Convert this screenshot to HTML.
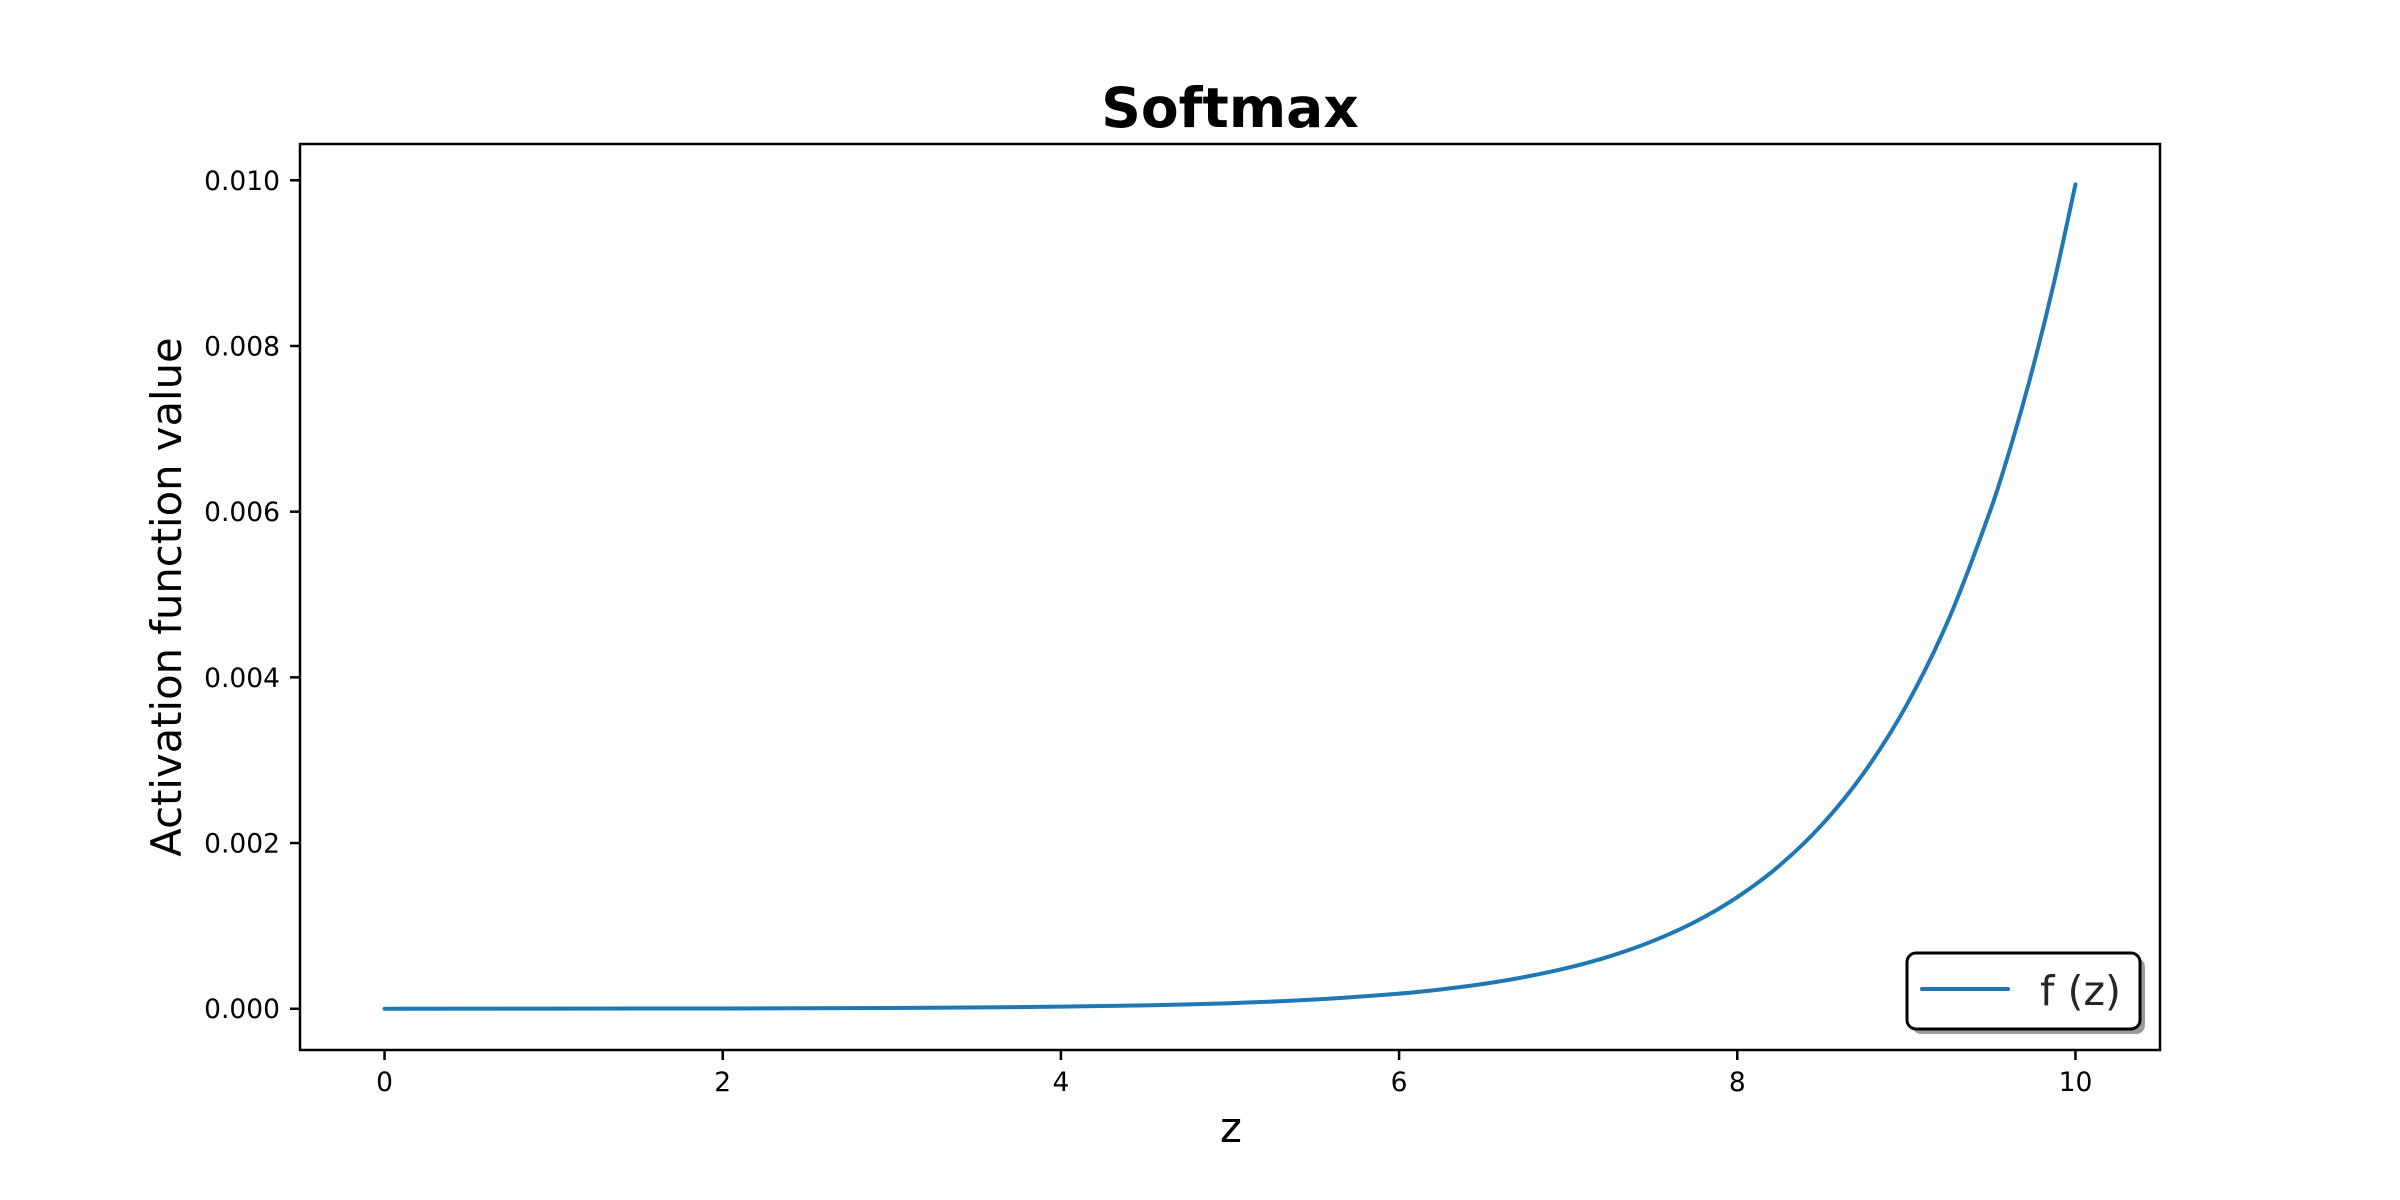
<!DOCTYPE html>
<html><head><meta charset="utf-8"><style>
html,body{margin:0;padding:0;background:#fff;}
svg{display:block;font-family:"DejaVu Sans","Liberation Sans",sans-serif;}
</style></head><body>
<svg id="chart" width="2400" height="1200" viewBox="0 0 2400 1200" xmlns="http://www.w3.org/2000/svg">
<rect x="0" y="0" width="2400" height="1200" fill="#fff"/>
<text x="1230" y="127" text-anchor="middle" font-size="55" font-weight="bold">Softmax</text>
<g id="xticks"></g>
<g id="yticks"></g>
<path id="series" fill="none" stroke="#1f77b4" stroke-width="4" stroke-linejoin="round" stroke-linecap="round"/>
<rect x="300" y="144" width="1860" height="906" fill="none" stroke="#000" stroke-width="2.5"/>
<text x="1231" y="1142" text-anchor="middle" font-size="41.7">z</text>
<text transform="translate(181,597) rotate(-90)" text-anchor="middle" font-size="41.7">Activation function value</text>
<g>
<rect x="1912" y="958" width="233" height="76" rx="9" fill="#999"/>
<rect x="1907" y="953" width="233" height="76" rx="9" fill="#fff" stroke="#000" stroke-width="3"/>
<line x1="1922" y1="989" x2="2008" y2="989" stroke="#1f77b4" stroke-width="4" stroke-linecap="round"/>
<text x="2040" y="1005" font-size="41" fill="#262626">f (z)</text>
</g>
</svg>
<script>
const zValues = [0,1,2,3,4,4.5,5,5.5,6,6.25,6.5,6.75,7,7.25,7.5,7.75,8,8.25,8.5,8.75,9,9.25,9.5,9.625,9.75,9.875,10];
const fValues = [0.00000045,0.0000012,0.0000033,0.0000091,0.000025,0.000041,0.000067,0.000111,0.000182,0.000234,0.000300,0.000386,0.000495,0.000636,0.000817,0.001049,0.001347,0.001729,0.002220,0.002851,0.003660,0.004700,0.006035,0.006839,0.007749,0.008781,0.00995];
const xTicks = [0,2,4,6,8,10];
const yTicks = [0,0.002,0.004,0.006,0.008,0.010];
const yTickLabels = ["0.000","0.002","0.004","0.006","0.008","0.010"];
const NS="http://www.w3.org/2000/svg";
const X0=300,X1=2160,Y0=1050,Y1=144,xmin=-0.5,xmax=10.5,ymin=-0.000498,ymax=0.010438;
function sx(v){return X0+(v-xmin)/(xmax-xmin)*(X1-X0);}
function sy(v){return Y0-(v-ymin)/(ymax-ymin)*(Y0-Y1);}
let d="M"+sx(zValues[0]).toFixed(2)+","+sy(fValues[0]).toFixed(2);
for(let i=0;i<zValues.length-1;i++){
  const x0=sx(zValues[i]),y0=sy(fValues[i]),x1=sx(zValues[i+1]),y1=sy(fValues[i+1]);
  const dx=(x1-x0)/3;
  const s0=i>0?(sy(fValues[i+1])-sy(fValues[i-1]))/(sx(zValues[i+1])-sx(zValues[i-1])):(y1-y0)/(x1-x0);
  const s1=i<zValues.length-2?(sy(fValues[i+2])-sy(fValues[i]))/(sx(zValues[i+2])-sx(zValues[i])):(y1-y0)/(x1-x0);
  d+=" C"+(x0+dx).toFixed(2)+","+(y0+s0*dx).toFixed(2)+" "+(x1-dx).toFixed(2)+","+(y1-s1*dx).toFixed(2)+" "+x1.toFixed(2)+","+y1.toFixed(2);
}
document.getElementById('series').setAttribute('d',d);
const gx=document.getElementById('xticks');
xTicks.forEach(t=>{
  const l=document.createElementNS(NS,'line');
  l.setAttribute('x1',sx(t));l.setAttribute('x2',sx(t));l.setAttribute('y1',1050);l.setAttribute('y2',1060);
  l.setAttribute('stroke','#000');l.setAttribute('stroke-width','2.5');
  
  
  gx.appendChild(l);
  const tx=document.createElementNS(NS,'text');
  tx.setAttribute('x',sx(t));tx.setAttribute('y',1091);tx.setAttribute('text-anchor','middle');tx.setAttribute('font-size','26.5');
  tx.textContent=String(t);
  
  
  gx.appendChild(tx);
});
const gy=document.getElementById('yticks');
yTicks.forEach((t,i)=>{
  const l=document.createElementNS(NS,'line');
  l.setAttribute('x1',290);l.setAttribute('x2',300);l.setAttribute('y1',sy(t));l.setAttribute('y2',sy(t));
  l.setAttribute('stroke','#000');l.setAttribute('stroke-width','2.5');
  
  
  gy.appendChild(l);
  const tx=document.createElementNS(NS,'text');
  tx.setAttribute('x',280);tx.setAttribute('y',sy(t)+9.5);tx.setAttribute('text-anchor','end');tx.setAttribute('font-size','26.5');
  tx.textContent=yTickLabels[i];
  
  
  gy.appendChild(tx);
});
</script>
</body></html>
